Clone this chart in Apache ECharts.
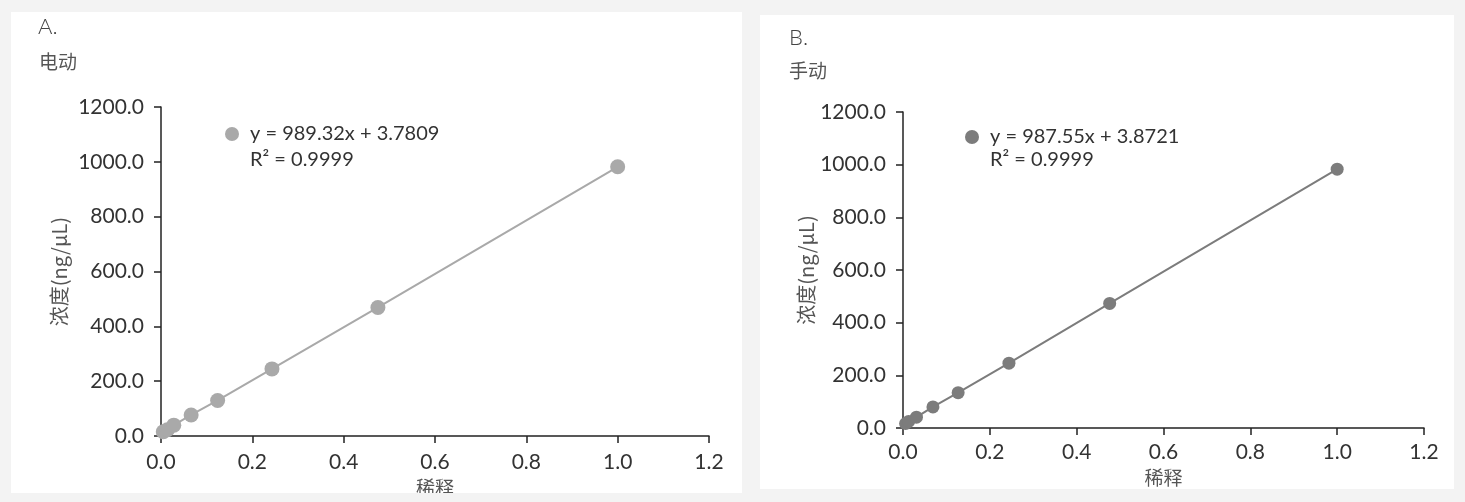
<!DOCTYPE html>
<html>
<head>
<meta charset="utf-8">
<script src="https://cdn.jsdelivr.net/npm/echarts@6/dist/echarts.min.js"></script>
<style>
  html, body { margin: 0; padding: 0; background: #f3f3f3; }
  #chart { width: 1465px; height: 502px; }
</style>
</head>
<body>
<div id="chart"></div>
<script>
// ---- data ----
const panelLetters = ['A.', 'B.'];
const panelTitles = ['电动', '手动'];
const yAxisName = '浓度(ng/μL)';
const xAxisName = '稀释';
const equationLabels = ['y = 989.32x + 3.7809', 'y = 987.55x + 3.8721'];
const r2Labels = ['R² = 0.9999', 'R² = 0.9999'];

const dilutionA = [0.005, 0.014, 0.028, 0.066, 0.124, 0.243, 0.475, 1.0];
const concA     = [16, 23, 40, 77, 130, 245, 469, 982];
const dilutionB = [0.006, 0.013, 0.031, 0.069, 0.127, 0.244, 0.476, 1.0];
const concB     = [17, 25, 41, 80, 134, 246, 473, 983];

const xMin = 0, xMax = 1.2, xStep = 0.2;
const yMin = 0, yMax = 1200, yStep = 200;

// ---- styling / layout ----
const colors = ['#a9a9a9', '#7c7c7c'];
const symbolSizes = [15, 13];
const grids = [
  { left: 161, top: 107, width: 548, height: 334 },
  { left: 903, top: 112, width: 521, height: 316 }
];
const yNameGaps = [92, 85];
const xNameGaps = [36, 29];
const numFont = 'Lato, "DejaVu Sans", sans-serif';
const cjkFont = '"Noto Sans CJK SC", sans-serif';

const chart = echarts.init(document.getElementById('chart'), null, { renderer: 'canvas' });

function mkX(i) {
  return {
    type: 'value', gridIndex: i, min: xMin, max: xMax, interval: xStep,
    name: xAxisName, nameLocation: 'middle', nameGap: xNameGaps[i],
    nameTextStyle: { fontFamily: cjkFont, fontSize: 19, color: '#555' },
    axisLine: { show: true, onZero: false, lineStyle: { color: '#222', width: 1.5 } },
    axisTick: { show: true, length: 7, lineStyle: { color: '#222', width: 1.5 } },
    axisLabel: { margin: i === 0 ? 16 : 14, fontFamily: numFont, fontSize: 21, color: '#333',
      formatter: v => v.toFixed(1) },
    splitLine: { show: false }
  };
}
function mkY(i) {
  return {
    type: 'value', gridIndex: i, min: yMin, max: yMax, interval: yStep,
    name: yAxisName, nameLocation: 'middle', nameGap: yNameGaps[i], nameRotate: 90,
    nameTextStyle: { fontFamily: cjkFont, fontSize: 20, color: '#555' },
    axisLine: { show: true, onZero: false, lineStyle: { color: '#222', width: 1.5 } },
    axisTick: { show: true, length: 7, lineStyle: { color: '#222', width: 1.5 } },
    axisLabel: { margin: 17, fontFamily: numFont, fontSize: 21, color: '#333',
      formatter: v => v.toFixed(1) },
    splitLine: { show: false }
  };
}
function mkSeries(i, xs, ys) {
  return {
    type: 'line', name: equationLabels[i], xAxisIndex: i, yAxisIndex: i,
    data: xs.map((x, k) => [x, ys[k]]),
    symbol: 'circle', symbolSize: symbolSizes[i], showAllSymbol: true,
    itemStyle: { color: colors[i] },
    lineStyle: { color: colors[i], width: 2 },
    emphasis: { disabled: true }, animation: false
  };
}

const option = {
  backgroundColor: '#f3f3f3',
  animation: false,
  grid: grids.map(g => Object.assign({ containLabel: false }, g)),
  xAxis: [mkX(0), mkX(1)],
  yAxis: [mkY(0), mkY(1)],
  legend: [
    { data: [equationLabels[0]], left: 220, top: 119, icon: 'circle', itemWidth: 14, itemHeight: 14, itemGap: 0,
      textStyle: { fontFamily: numFont, fontSize: 20, color: '#333', padding: [0, 0, 0, 6] } },
    { data: [equationLabels[1]], left: 960, top: 122, icon: 'circle', itemWidth: 14, itemHeight: 14, itemGap: 0,
      textStyle: { fontFamily: numFont, fontSize: 20, color: '#333', padding: [0, 0, 0, 6] } }
  ],
  graphic: [
    { type: 'rect', z: -10, shape: { x: 11, y: 12, width: 731, height: 481 }, style: { fill: '#ffffff' }, silent: true },
    { type: 'rect', z: -10, shape: { x: 760, y: 15, width: 694, height: 474 }, style: { fill: '#ffffff' }, silent: true },
    { type: 'text', left: 38, top: 16, style: { text: panelLetters[0], font: '300 22px Lato, sans-serif', fill: '#444' } },
    { type: 'text', left: 39, top: 52, style: { text: panelTitles[0], font: '19px "Noto Sans CJK SC"', fill: '#555' } },
    { type: 'text', left: 789, top: 27, style: { text: panelLetters[1], font: '300 22px Lato, sans-serif', fill: '#444' } },
    { type: 'text', left: 789, top: 61, style: { text: panelTitles[1], font: '19px "Noto Sans CJK SC"', fill: '#555' } },
    { type: 'text', left: 250, top: 150, style: { text: r2Labels[0], font: '20px Lato, sans-serif', fill: '#333' } },
    { type: 'text', left: 990, top: 150, style: { text: r2Labels[1], font: '20px Lato, sans-serif', fill: '#333' } },
    { type: 'rect', z: 100, shape: { x: 0, y: 493, width: 760, height: 9 }, style: { fill: '#f3f3f3' }, silent: true }
  ],
  series: [mkSeries(0, dilutionA, concA), mkSeries(1, dilutionB, concB)]
};
chart.setOption(option);
</script>
</body>
</html>
